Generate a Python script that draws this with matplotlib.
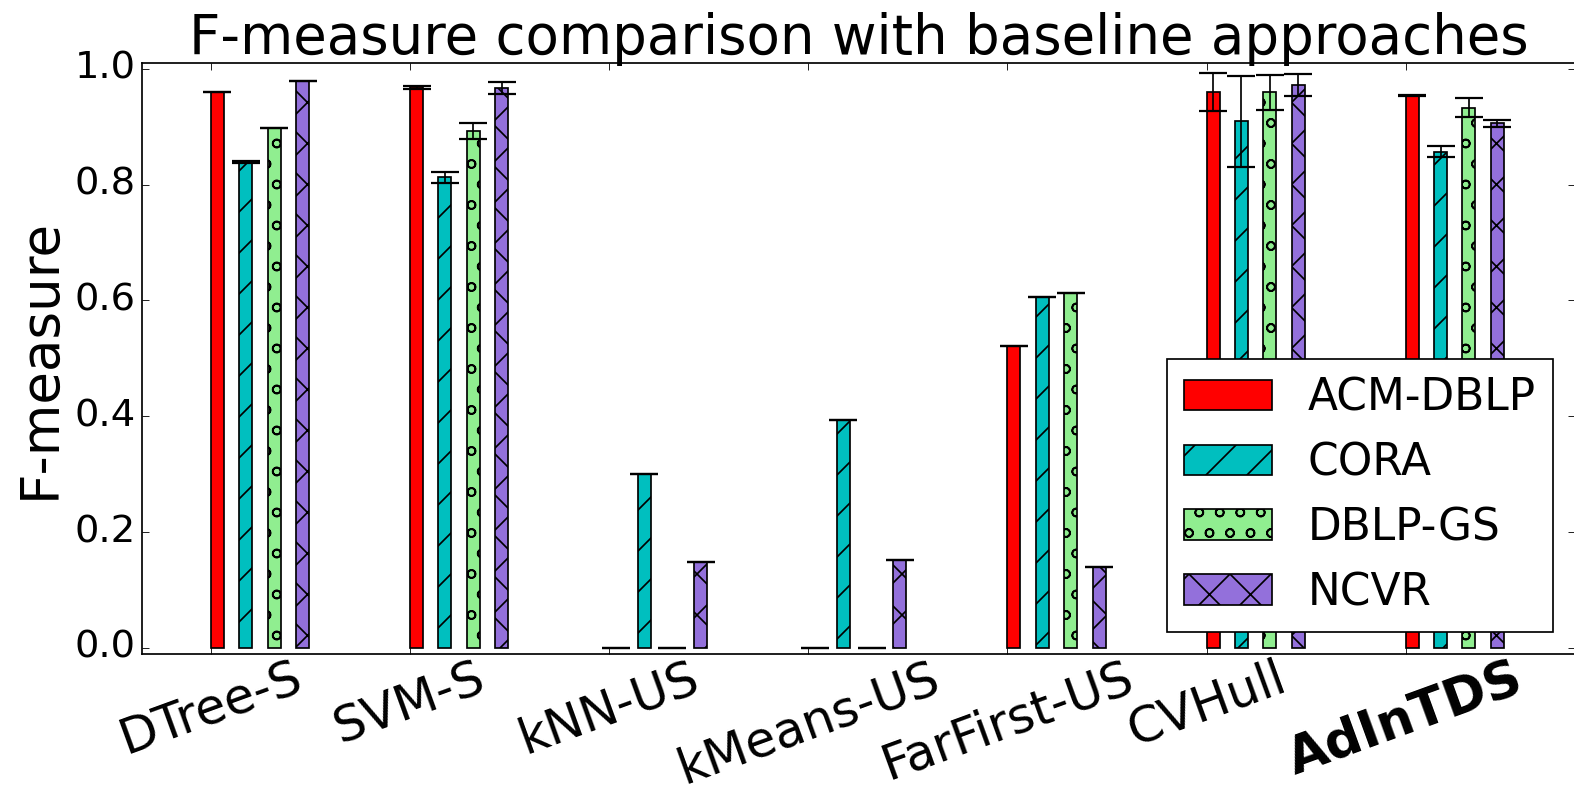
import numpy as np
import matplotlib
matplotlib.use('Agg')
import matplotlib.pyplot as plt

plt.style.use('classic')

methods = ['DTree-S', 'SVM-S', 'kNN-US', 'kMeans-US', 'FarFirst-US', 'CVHull', 'AdInTDS']
datasets = ['ACM-DBLP', 'CORA', 'DBLP-GS', 'NCVR']

acm_dblp = [0.959, 0.968, 0.0, 0.0, 0.522, 0.960, 0.954]
acm_dblp_err = [0.0, 0.0026, 0.0, 0.0, 0.0, 0.033, 0.001]
cora = [0.839, 0.813, 0.300, 0.394, 0.606, 0.909, 0.857]
cora_err = [0.002, 0.0095, 0.0, 0.0, 0.0, 0.078, 0.0098]
dblp_gs = [0.897, 0.893, 0.0, 0.0, 0.613, 0.959, 0.933]
dblp_gs_err = [0.0, 0.0138, 0.0, 0.0, 0.0, 0.030, 0.0158]
ncvr = [0.979, 0.966, 0.149, 0.151, 0.140, 0.972, 0.906]
ncvr_err = [0.0, 0.0103, 0.0, 0.0, 0.0, 0.0186, 0.006]

colors = ['r', 'c', 'lightgreen', 'mediumpurple']
hatches = ['', '/', 'o', 'x']

fig = plt.figure(figsize=(1574 / 123.0, 791 / 123.0), dpi=123)
ax = fig.add_axes([0.0904, 0.1736, 0.9102, 0.7468])

ind = np.arange(len(methods))
width = 0.065
step = 0.1425
series = [(acm_dblp, acm_dblp_err), (cora, cora_err), (dblp_gs, dblp_gs_err), (ncvr, ncvr_err)]
for k, (vals, errs) in enumerate(series):
    x = ind + k * step
    ax.bar(x, vals, width, align='edge', color=colors[k], hatch=hatches[k],
           edgecolor='k', linewidth=1, label=datasets[k])
    ax.errorbar(x + width / 2, vals, yerr=errs, fmt='none', ecolor='k',
                elinewidth=1, capsize=8, capthick=1.3)

ax.set_xlim(-0.345, 6.85)
ax.set_ylim(-0.01, 1.01)
ax.set_xticks(ind)
ax.set_xticklabels(methods, rotation=20, fontsize=29)
ax.tick_params(axis='x', pad=0)
last = ax.get_xticklabels()[-1]
last.set_fontweight('bold')
last.set_fontsize(30)
ax.set_yticks([0.0, 0.2, 0.4, 0.6, 0.8, 1.0])
ax.tick_params(axis='y', labelsize=22.5)
ax.set_ylabel('F-measure', fontsize=31)
ax.set_title('F-measure comparison with baseline approaches', fontsize=32)
ax.legend(loc='lower right', fontsize=25.7)

fig.savefig('out.png', dpi=123)
